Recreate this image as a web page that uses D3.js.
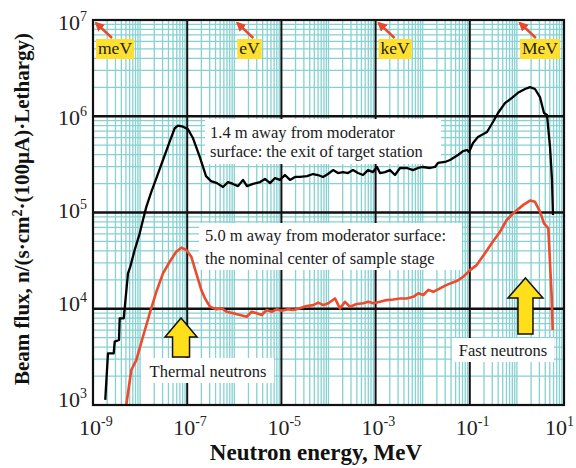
<!DOCTYPE html>
<html><head><meta charset="utf-8">
<script src="https://cdn.jsdelivr.net/npm/d3@7"></script>
<style>body{margin:0;background:#fff}svg{display:block}</style>
</head><body><svg id="c" width="576" height="468"></svg>
<script>
// ---------- data ----------
const blackE = [1.82e-9,2.08e-9,2.75e-9,2.89e-9,3.56e-9,3.69e-9,4.49e-9,5.53e-9,6.19e-9,7.67e-9,9.82e-9,
  1.15e-8,1.36e-8,1.73e-8,2.21e-8,3.06e-8,4.25e-8,5.43e-8,6.38e-8,8.15e-8,1.04e-7,1.33e-7,1.84e-7,
  2.51e-7,3.20e-7,4.30e-7,5.75e-7,7.35e-7,9.37e-7,1.20e-6,1.53e-6,1.86e-6,2.49e-6,3.52e-6,4.49e-6,5.73e-6,7.31e-6,9.33e-6,
  1.19e-5,1.52e-5,1.95e-5,2.48e-5,3.50e-5,4.69e-5,5.98e-5,7.64e-5,9.75e-5,
  1.25e-4,1.59e-4,2.03e-4,2.59e-4,3.31e-4,4.23e-4,5.40e-4,6.90e-4,8.81e-4,
  1.07e-3,1.24e-3,1.58e-3,2.02e-3,2.58e-3,3.30e-3,4.65e-3,6.22e-3,7.94e-3,
  1.01e-2,1.43e-2,1.82e-2,2.11e-2,2.97e-2,3.80e-2,5.61e-2,7.18e-2,8.73e-2,9.62e-2,
  0.117,0.149,0.232,0.310,0.397,0.558,0.787,
  1.05,1.49,1.90,2.42,3.09,3.76,4.36,5.05,5.56,5.83];
const blackFlux = [1.13e3,3.44e3,3.44e3,4.55e3,4.73e3,7.96e3,7.96e3,2.33e4,2.74e4,4.08e4,6.08e4,
  8.36e4,1.15e5,1.64e5,2.26e5,3.51e5,5.44e5,7.50e5,7.98e5,7.78e5,7.31e5,5.90e5,3.80e5,
  2.39e5,2.12e5,2.02e5,1.84e5,2.07e5,1.98e5,1.88e5,2.18e5,1.88e5,1.98e5,2.07e5,2.23e5,2.02e5,2.28e5,2.18e5,
  2.45e5,2.18e5,2.34e5,2.34e5,2.39e5,2.51e5,2.45e5,2.34e5,2.51e5,
  2.76e5,2.57e5,2.63e5,2.57e5,2.76e5,2.57e5,2.45e5,2.76e5,2.63e5,
  2.97e5,2.57e5,2.63e5,2.76e5,2.45e5,2.90e5,2.90e5,2.76e5,2.90e5,
  2.97e5,2.90e5,2.97e5,3.27e5,3.35e5,3.51e5,3.96e5,4.35e5,4.46e5,4.25e5,
  5.27e5,6.08e5,6.86e5,8.71e5,1.08e6,1.37e6,1.55e6,
  1.75e6,1.92e6,2.01e6,1.92e6,1.58e6,1.08e6,1.03e6,4.79e5,2.18e5,9.42e4];
const redE = [5.09e-9,6.50e-9,8.30e-9,
  1.15e-8,1.60e-8,2.21e-8,3.06e-8,4.25e-8,5.87e-8,7.50e-8,9.57e-8,
  1.22e-7,1.56e-7,1.99e-7,2.39e-7,3.05e-7,4.23e-7,5.40e-7,6.90e-7,9.53e-7,
  1.32e-6,1.83e-6,2.34e-6,2.99e-6,3.82e-6,4.88e-6,6.22e-6,7.94e-6,
  1.01e-5,1.40e-5,1.79e-5,2.48e-5,3.44e-5,4.75e-5,6.07e-5,7.76e-5,9.91e-5,
  1.37e-4,1.75e-4,2.24e-4,2.86e-4,3.97e-4,5.48e-4,7.00e-4,8.93e-4,
  1.24e-3,1.72e-3,2.38e-3,3.30e-3,4.57e-3,6.31e-3,8.07e-3,
  1.03e-2,1.32e-2,1.68e-2,2.33e-2,3.23e-2,5.27e-2,7.28e-2,
  0.101,0.140,0.210,0.292,0.438,0.607,0.912,
  1.37,1.90,2.42,3.09,3.76,4.65,5.05,5.48,5.75];
const redFlux = [1.00e3,2.31e3,2.93e3,
  5.12e3,8.97e3,1.50e4,2.33e4,3.08e4,3.92e4,4.31e4,4.08e4,
  3.47e4,2.33e4,1.57e4,1.28e4,1.05e4,9.86e3,1.01e4,9.31e3,8.97e3,
  8.61e3,8.26e3,9.31e3,8.97e3,8.61e3,9.70e3,9.31e3,9.86e3,
  9.55e3,9.86e3,9.70e3,1.01e4,1.07e4,1.09e4,1.16e4,1.09e4,1.14e4,
  1.28e4,1.01e4,1.18e4,1.05e4,1.12e4,1.14e4,1.18e4,1.14e4,
  1.18e4,1.23e4,1.25e4,1.28e4,1.28e4,1.33e4,1.45e4,
  1.39e4,1.57e4,1.50e4,1.63e4,1.77e4,1.94e4,2.15e4,
  2.52e4,2.84e4,3.77e4,4.79e4,6.31e4,8.36e4,1.02e5,
  1.20e5,1.33e5,1.29e5,1.02e5,7.72e4,6.85e4,2.97e4,1.33e4,6.01e3];
const xTickExps = [-9,-7,-5,-3,-1,1];
const yTickExps = [3,4,5,6,7];
const majorXExps = [-7,-5,-3,-1];
const majorYExps = [4,5,6];
const unitLabels = ["meV","eV","keV","MeV"];
const unitEnergies = [1e-9,1e-6,1e-3,1];
const blackNote = ["1.4 m away from moderator","surface: the exit of target station"];
const redNote = ["5.0 m away from moderator surface:","the nominal center of sample stage"];
const arrowLabels = ["Thermal neutrons","Fast neutrons"];
const arrowEnergies = [7.4e-8, 1.52];
const xTitle = "Neutron energy, MeV";

// ---------- layout ----------
const svg = d3.select("#c");
const L = 93, R = 564, T = 20, B = 405;
const x = d3.scaleLog().domain([1e-9, 10]).range([L, R]);
const y = d3.scaleLog().domain([1e3, 1e7]).range([B, T]);
const serif = "'Liberation Serif','Times New Roman',serif";
const cyan = "#86d1d1";

svg.append("rect").attr("width",576).attr("height",468).attr("fill","#fff");

// minor grid
const g = svg.append("g");
const minorX = [];
for (let d = -9; d < 1; d++) for (let m = 1; m <= 9; m++) {
  const v = m * Math.pow(10, d);
  if (m === 1 && (d - -9) % 2 === 0) continue;
  minorX.push(v);
}
const minorY = [];
for (let d = 3; d < 7; d++) for (let m = 2; m <= 9; m++) minorY.push(m * Math.pow(10, d));
g.selectAll("line.mx").data(minorX).join("line")
  .attr("x1", d => x(d)).attr("x2", d => x(d)).attr("y1", T).attr("y2", B)
  .attr("stroke", cyan).attr("stroke-width", 1.3);
g.selectAll("line.my").data(minorY).join("line")
  .attr("y1", d => y(d)).attr("y2", d => y(d)).attr("x1", L).attr("x2", R)
  .attr("stroke", cyan).attr("stroke-width", 1.3);

// major lines
g.selectAll("line.Mx").data(majorXExps).join("line")
  .attr("x1", d => x(Math.pow(10,d))).attr("x2", d => x(Math.pow(10,d))).attr("y1", T).attr("y2", B)
  .attr("stroke", "#111").attr("stroke-width", 2);
g.selectAll("line.My").data(majorYExps).join("line")
  .attr("y1", d => y(Math.pow(10,d))).attr("y2", d => y(Math.pow(10,d))).attr("x1", L).attr("x2", R)
  .attr("stroke", "#111").attr("stroke-width", 2.6);

// annotation boxes (white)
function box(x0, y0, x1, y1) {
  svg.append("rect").attr("x", x0).attr("y", y0).attr("width", x1 - x0).attr("height", y1 - y0).attr("fill", "#fff");
}
box(205, 119, 441, 164);
box(199, 223, 462, 270);
box(141, 358, 274, 383);
box(452, 338, 554, 362);

// curves
const line = d3.line().x(d => x(d[0])).y(d => y(d[1]));
svg.append("path").datum(blackE.map((e,i)=>[e, blackFlux[i]]))
  .attr("d", line).attr("fill","none").attr("stroke","#000").attr("stroke-width",2.3).attr("stroke-linejoin","round");
svg.append("path").datum(redE.map((e,i)=>[e, redFlux[i]]))
  .attr("d", line).attr("fill","none").attr("stroke","#ee4a2c").attr("stroke-width",2.6).attr("stroke-linejoin","round");

// frame
svg.append("rect").attr("x", L).attr("y", T).attr("width", R - L).attr("height", B - T)
  .attr("fill","none").attr("stroke","#111").attr("stroke-width",2.2);

// notes text
function note(lines, x0, y0, lh) {
  const t = svg.append("text").attr("font-family", serif).attr("font-size", 16.5).attr("fill", "#1a1a1a");
  lines.forEach((s, i) => t.append("tspan").attr("x", x0).attr("y", y0 + i * lh).text(s));
}
note(blackNote, 210, 138, 19);
note(redNote, 205, 241, 23);

// yellow arrows + labels
function upArrow(cx, top, bottom, hw, hh, sw) {
  const p = `M${cx},${top} L${cx+hw/2},${top+hh} L${cx+sw/2},${top+hh} L${cx+sw/2},${bottom} L${cx-sw/2},${bottom} L${cx-sw/2},${top+hh} L${cx-hw/2},${top+hh} Z`;
  svg.append("path").attr("d", p).attr("fill", "#ffdf1a").attr("stroke", "#111").attr("stroke-width", 1.5).attr("stroke-linejoin","miter");
}
upArrow(x(arrowEnergies[0]), 318, 357, 32, 19, 17);
upArrow(x(arrowEnergies[1]), 278, 334, 35, 20, 15);
svg.append("text").attr("x", 208).attr("y", 377).attr("text-anchor","middle")
  .attr("font-family", serif).attr("font-size", 16.5).attr("fill","#1a1a1a").text(arrowLabels[0]);
svg.append("text").attr("x", 503).attr("y", 356).attr("text-anchor","middle")
  .attr("font-family", serif).attr("font-size", 16.5).attr("fill","#1a1a1a").text(arrowLabels[1]);

// unit markers
const defs = svg.append("defs");
defs.append("marker").attr("id","ah").attr("viewBox","0 0 10 10").attr("refX",8).attr("refY",5)
  .attr("markerWidth",4).attr("markerHeight",4).attr("orient","auto")
  .append("path").attr("d","M0,0 L10,5 L0,10 Z").attr("fill","#e8482c");
unitLabels.forEach((u, i) => {
  const tx = x(unitEnergies[i]);
  const t = svg.append("text").attr("font-family", serif).attr("font-size", 17.5).attr("fill","#222")
    .attr("x", tx + 5).attr("y", 54).text(u);
  const w = t.node().getComputedTextLength();
  svg.insert("rect", () => t.node()).attr("x", tx + 3).attr("y", 39).attr("width", w + 4).attr("height", 20)
    .attr("fill", "#ffe02e");
  svg.append("line").attr("x1", tx + 19).attr("y1", 38).attr("x2", tx + 3).attr("y2", 23)
    .attr("stroke","#e8482c").attr("stroke-width",2.4).attr("marker-end","url(#ah)");
});

// tick labels
xTickExps.forEach((e, i) => {
  const last = i === xTickExps.length - 1;
  const t = svg.append("text").attr("font-family", serif).attr("font-size", 22).attr("fill","#222")
    .attr("x", last ? 574 : x(Math.pow(10,e)) - 14).attr("y", 435)
    .attr("text-anchor", last ? "end" : "start");
  t.append("tspan").text("10");
  t.append("tspan").attr("font-size", 14).attr("dy", -9).text(String(e));
});
const yDy = {3: 2, 4: 2, 5: 5, 6: 9, 7: 10};
yTickExps.forEach(e => {
  const t = svg.append("text").attr("font-family", serif).attr("font-size", 22).attr("fill","#222")
    .attr("x", 87).attr("y", y(Math.pow(10,e)) + yDy[e]).attr("text-anchor","end");
  t.append("tspan").text("10");
  t.append("tspan").attr("font-size", 14).attr("dy", -9).text(String(e));
});

// axis titles
svg.append("text").attr("x", 316).attr("y", 460).attr("text-anchor","middle")
  .attr("font-family", serif).attr("font-size", 23).attr("font-weight","bold").attr("fill","#111").text(xTitle);
const yt = svg.append("text").attr("transform","translate(29,209) rotate(-90)").attr("text-anchor","middle")
  .attr("font-family", serif).attr("font-size", 21).attr("font-weight","bold").attr("fill","#111");
yt.append("tspan").text("Beam flux, n/(s·cm");
yt.append("tspan").attr("font-size", 14).attr("dy", -7).text("2");
yt.append("tspan").attr("dy", 7).text("·(100μA)·Lethargy)");
</script></body></html>
